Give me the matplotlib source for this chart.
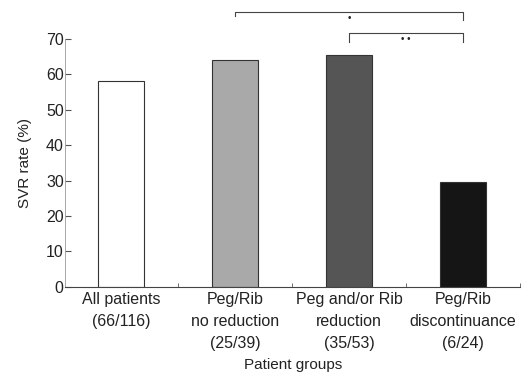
import matplotlib.pyplot as plt
from matplotlib.ticker import FixedLocator

plt.rcParams['font.family'] = ['Liberation Sans', 'DejaVu Sans']

groups = ["All patients\n(66/116)", "Peg/Rib\nno reduction\n(25/39)",
          "Peg and/or Rib\nreduction\n(35/53)", "Peg/Rib\ndiscontinuance\n(6/24)"]
svr_rate = [58, 64, 65.5, 29.5]
bar_colors = ["#ffffff", "#a9a9a9", "#555555", "#151515"]
yticks = [0, 10, 20, 30, 40, 50, 60, 70]

fig = plt.figure(figsize=(5.25, 3.74), dpi=100)
ax = fig.add_axes([0.124, 0.233, 0.867, 0.663])

x = list(range(len(groups)))
ax.bar(x, svr_rate, width=0.4, color=bar_colors, edgecolor="#333333",
       linewidth=0.8)

ax.set_xlim(-0.49, 3.5)
ax.set_ylim(0, 70)
ax.set_yticks(yticks)
ax.set_yticklabels([str(v) for v in yticks], fontsize=11.5, color="#222")
ax.set_xticks(x)
ax.set_xticklabels(groups, fontsize=11.5, color="#222", linespacing=1.55)
ax.xaxis.set_minor_locator(FixedLocator([0.5, 1.5, 2.5, 3.5]))
ax.tick_params(axis="x", which="major", length=0, pad=4)
ax.tick_params(axis="x", which="minor", direction="in", length=3,
               color="#555")
ax.tick_params(axis="y", direction="in", length=4, pad=1, color="#555")

for s in ["top", "right"]:
    ax.spines[s].set_visible(False)
ax.spines["left"].set_color("#999999")
ax.spines["left"].set_linewidth(0.6)
ax.spines["bottom"].set_color("#444444")
ax.spines["bottom"].set_linewidth(0.8)

ax.set_ylabel("SVR rate (%)", fontsize=11, color="#222", labelpad=10)
ax.set_xlabel("Patient groups", fontsize=11, color="#222", labelpad=5)

# significance brackets
lc = "#444444"
ax.plot([1, 1, 3, 3], [76.5, 77.7, 77.7, 75.2], color=lc, lw=0.8,
        clip_on=False)
ax.text(2, 75.8, "•", ha="center", va="center", fontsize=7, color="#222")
ax.plot([2, 2, 3, 3], [69.2, 71.8, 71.8, 69.2], color=lc, lw=0.8,
        clip_on=False)
ax.text(2.5, 70.1, "• •", ha="center", va="center", fontsize=7,
        color="#222")

plt.savefig("out.png", dpi=100)
